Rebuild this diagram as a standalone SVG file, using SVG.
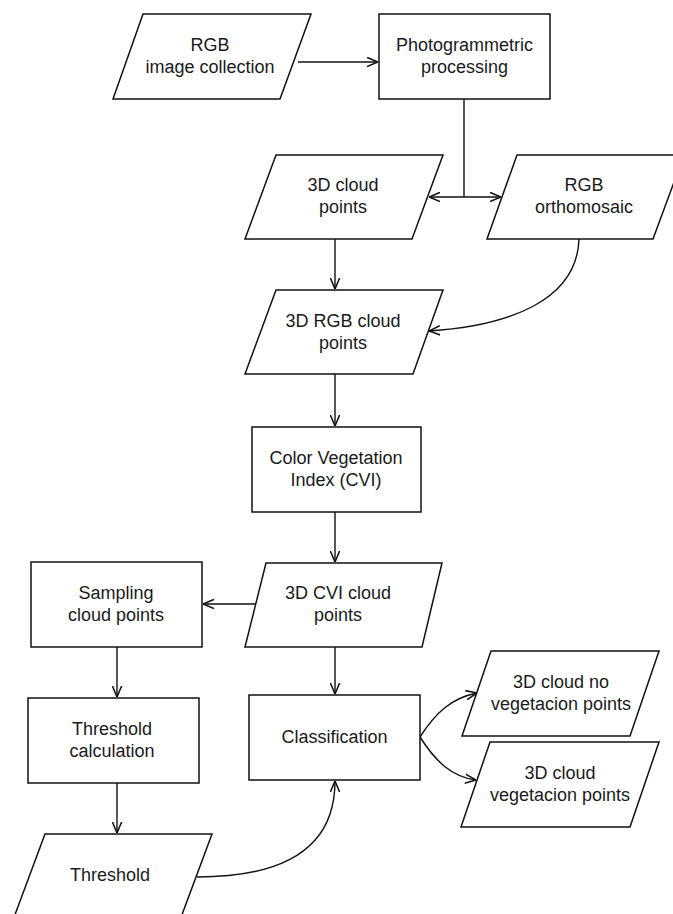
<svg xmlns="http://www.w3.org/2000/svg" width="673" height="914" viewBox="0 0 673 914">
<defs>
<marker id="arr" viewBox="0 0 10 10" refX="10" refY="5" markerWidth="11" markerHeight="11" markerUnits="userSpaceOnUse" orient="auto">
<path d="M0,0.8 L10,5 L0,9.2" fill="none" stroke="#111" stroke-width="1.4"/>
</marker>
<style>
.n{fill:#fff;stroke:#111;stroke-width:1.5}
.t{font-family:"Liberation Sans",Arial,sans-serif;font-size:18px;fill:#1a1a1a;text-anchor:middle}
.c{fill:none;stroke:#111;stroke-width:1.4}
</style>
</defs>
<rect width="673" height="914" fill="#fff"/>
<g id="connectors">
<path class="c" d="M298,62 H378" marker-end="url(#arr)"/>
<path class="c" d="M464,99 V197"/>
<path class="c" d="M464,197 H429" marker-end="url(#arr)"/>
<path class="c" d="M464,197 H501" marker-end="url(#arr)"/>
<path class="c" d="M335,239 V289" marker-end="url(#arr)"/>
<path class="c" d="M579,239 C577,300 510,326 429,331" marker-end="url(#arr)"/>
<path class="c" d="M335,374 V426" marker-end="url(#arr)"/>
<path class="c" d="M335,512 V562" marker-end="url(#arr)"/>
<path class="c" d="M260,604 H203" marker-end="url(#arr)"/>
<path class="c" d="M335,647 V694" marker-end="url(#arr)"/>
<path class="c" d="M117,647 V697" marker-end="url(#arr)"/>
<path class="c" d="M117,783 V833" marker-end="url(#arr)"/>
<path class="c" d="M197,877 C290,877 335,845 335,781" marker-end="url(#arr)"/>
<path class="c" d="M420,737 C436,712 452,698 477,693" marker-end="url(#arr)"/>
<path class="c" d="M420,737 C436,762 452,777 476,780" marker-end="url(#arr)"/>
</g>
<g id="rgb-image-collection">
<polygon class="n" points="143,14 311,14 280,99 113,99"/>
<text class="t" x="210" y="51">RGB</text>
<text class="t" x="210" y="73">image collection</text>
</g>
<g id="photogrammetric-processing">
<rect class="n" x="379" y="14" width="171" height="85"/>
<text class="t" x="464.5" y="51">Photogrammetric</text>
<text class="t" x="464.5" y="73">processing</text>
</g>
<g id="cloud-points">
<polygon class="n" points="276,155 443,155 412,239 245,239"/>
<text class="t" x="343" y="191">3D cloud</text>
<text class="t" x="343" y="213">points</text>
</g>
<g id="rgb-orthomosaic">
<polygon class="n" points="517,155 684,155 653,239 487,239"/>
<text class="t" x="584" y="191">RGB</text>
<text class="t" x="584" y="213">orthomosaic</text>
</g>
<g id="rgb-cloud-points">
<polygon class="n" points="276,290 443,290 413,374 245,374"/>
<text class="t" x="343" y="327">3D RGB cloud</text>
<text class="t" x="343" y="349">points</text>
</g>
<g id="cvi">
<rect class="n" x="252" y="427" width="169" height="85"/>
<text class="t" x="336" y="464">Color Vegetation</text>
<text class="t" x="336" y="486">Index (CVI)</text>
</g>
<g id="cvi-cloud-points">
<polygon class="n" points="266,563 442,563 422,647 245,647"/>
<text class="t" x="338" y="599">3D CVI cloud</text>
<text class="t" x="338" y="621">points</text>
</g>
<g id="sampling">
<rect class="n" x="31" y="562" width="171" height="85"/>
<text class="t" x="116" y="599">Sampling</text>
<text class="t" x="116" y="621">cloud points</text>
</g>
<g id="threshold-calculation">
<rect class="n" x="28" y="698" width="171" height="85"/>
<text class="t" x="112" y="735">Threshold</text>
<text class="t" x="112" y="757">calculation</text>
</g>
<g id="threshold">
<polygon class="n" points="45,834 212,834 180,920 13,920"/>
<text class="t" x="110" y="881">Threshold</text>
</g>
<g id="classification">
<rect class="n" x="249" y="695" width="171" height="85"/>
<text class="t" x="334.5" y="743">Classification</text>
</g>
<g id="no-vegetation-points">
<polygon class="n" points="491,651 659,651 630,736 462,736"/>
<text class="t" x="561" y="688">3D cloud no</text>
<text class="t" x="561" y="710">vegetacion points</text>
</g>
<g id="vegetation-points">
<polygon class="n" points="490,742 659,742 630,827 461,827"/>
<text class="t" x="560" y="779">3D cloud</text>
<text class="t" x="560" y="801">vegetacion points</text>
</g>
</svg>
